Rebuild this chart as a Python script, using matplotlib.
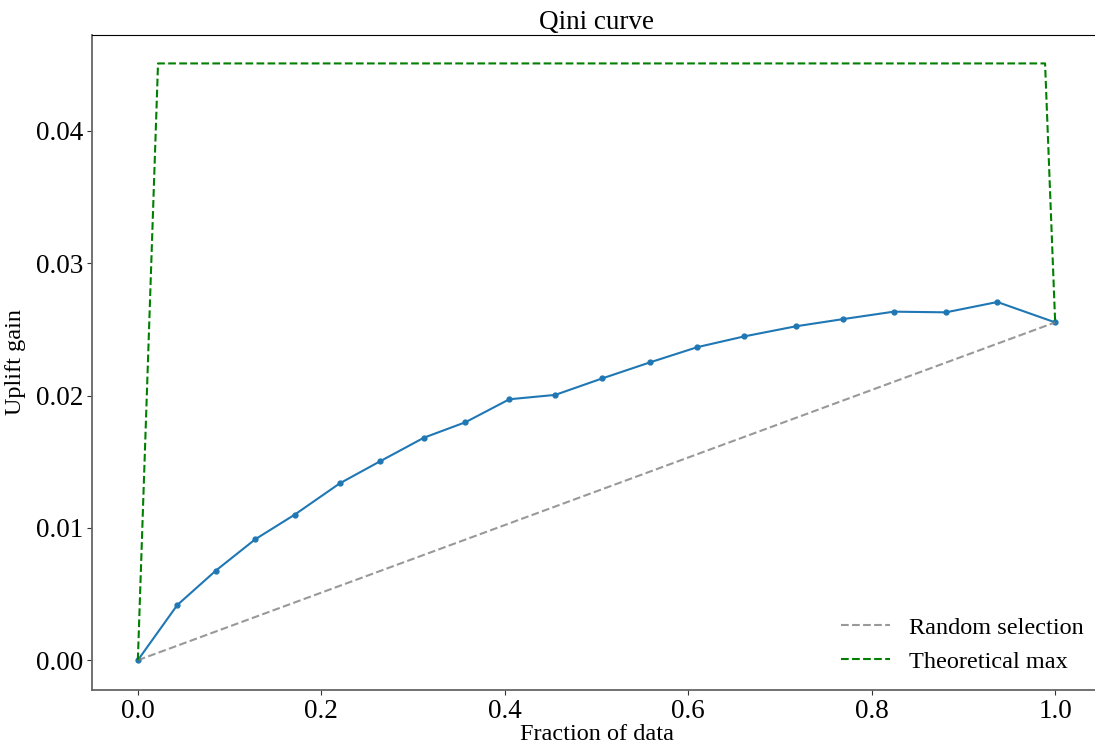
import matplotlib
matplotlib.use("Agg")
import matplotlib.pyplot as plt

plt.rcParams["font.family"] = ["Liberation Serif", "DejaVu Serif"]
plt.rcParams["font.size"] = 17

# Qini curve points
frac = [0.0, 0.043, 0.085, 0.128, 0.171, 0.220, 0.264, 0.312, 0.357, 0.405,
        0.455, 0.506, 0.558, 0.610, 0.661, 0.717, 0.769, 0.824, 0.881, 0.937, 1.0]
gain = [0.0, 0.00417, 0.00677, 0.00914, 0.0110, 0.01336, 0.01503, 0.01682, 0.01798,
        0.01972, 0.02005, 0.02129, 0.0225, 0.02366, 0.02447, 0.02523, 0.02578,
        0.02634, 0.02629, 0.02707, 0.02553]

# Random baseline and theoretical maximum
random_x = [0.0, 1.0]
random_y = [0.0, 0.02553]
max_x = [0.0, 0.022, 0.989, 1.0]
max_y = [0.0, 0.0451, 0.0451, 0.02553]

fig = plt.figure(figsize=(10.95, 7.49), dpi=100)
ax = fig.add_axes([0.0840, 0.0788, 0.9215, 0.8745])

ax.plot(frac, gain, marker="o", markersize=3.5, color="#1f77b4", lw=1.5)
ax.plot(random_x, random_y, "--", color="gray", alpha=0.8, lw=1.5, label="Random selection")
ax.plot(max_x, max_y, "--", color="green", lw=1.5, label="Theoretical max")

ax.set_xlim(-0.05, 1.05)
ax.set_ylim(-0.00225, 0.04725)
ax.set_xticks([0.0, 0.2, 0.4, 0.6, 0.8, 1.0])
ax.set_yticks([0.0, 0.01, 0.02, 0.03, 0.04])
ax.set_yticklabels(["0.00", "0.01", "0.02", "0.03", "0.04"])

for side in ["left", "bottom"]:
    ax.spines[side].set_color("#666666")
    ax.spines[side].set_linewidth(1.3)
ax.tick_params(colors="#333333", labelcolor="black", labelsize=19.5, pad=3)

ax.set_title("Qini curve", fontsize=19.5, pad=4)
ax.set_xlabel("Fraction of data", fontsize=17.5, labelpad=0)
ax.set_ylabel("Uplift gain", fontsize=17.5, labelpad=7)
ax.legend(loc="lower right", frameon=False, fontsize=17.5, borderaxespad=0.3)

fig.savefig("out.png", dpi=100)
